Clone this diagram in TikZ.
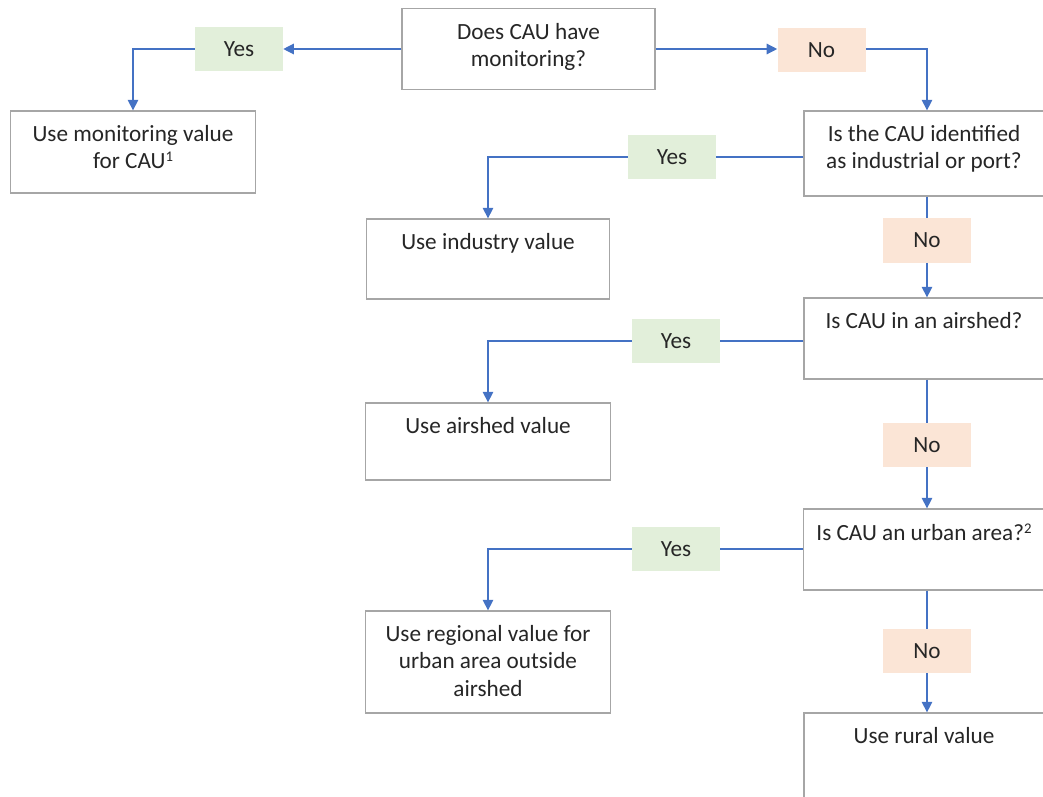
\documentclass[tikz,border=0pt]{standalone}
\usepackage{fontspec}
\setmainfont{Carlito}
\usepackage{tikz}
\usetikzlibrary{arrows.meta}

\definecolor{linkblue}{HTML}{4472C4}
\definecolor{boxgray}{HTML}{A6A6A6}
\definecolor{yesgreen}{HTML}{E2EFDA}
\definecolor{nopeach}{HTML}{FBE5D6}
\definecolor{inkgray}{HTML}{262626}

\newcommand{\notemark}[1]{\raisebox{0.33em}{\fontsize{10.5}{10.5}\selectfont #1}}

\begin{document}
\begin{tikzpicture}[x=0.025cm, y=-0.025cm, font=\fontsize{16.5}{19.5}\selectfont, text=inkgray]
    % Styles
    \tikzstyle{frame} = [rectangle, draw=boxgray, line width=0.9pt, fill=white, inner sep=0pt]
    \tikzstyle{boxtext} = [anchor=north, align=center, inner sep=0pt, yshift=-0.37cm]
    \tikzstyle{yes} = [rectangle, fill=yesgreen, minimum width=2.2cm, minimum height=1.1cm, inner sep=0pt]
    \tikzstyle{no} = [rectangle, fill=nopeach, minimum width=2.2cm, minimum height=1.1cm, inner sep=0pt]
    \tikzstyle{arrow} = [->, >={Triangle[width=7.5pt, length=7.5pt]}, draw=linkblue, line width=0.9pt]
    \tikzstyle{link} = [draw=linkblue, line width=0.9pt]

    \clip (0,0) rectangle (1043,796);

    % Boxes
    \node[frame, minimum width=6.325cm, minimum height=2.025cm] (q1) at (528.5,49) {};
    \node[frame, minimum width=6.125cm, minimum height=2.05cm] (a1) at (133,152) {};
    \node[frame, minimum width=6cm, minimum height=2.125cm] (q2) at (924,153.5) {};
    \node[frame, minimum width=6.075cm, minimum height=2cm] (a2) at (488,259) {};
    \node[frame, minimum width=6cm, minimum height=2.025cm] (q3) at (924,338.5) {};
    \node[frame, minimum width=6.125cm, minimum height=1.925cm] (a3) at (488,441.5) {};
    \node[frame, minimum width=6.025cm, minimum height=2.025cm] (q4) at (924,549.5) {};
    \node[frame, minimum width=6.125cm, minimum height=2.55cm] (a4) at (488,662) {};
    \node[frame, minimum width=6cm, minimum height=2.25cm] (a5) at (924,758) {};

    % Box texts
    \node[boxtext] (q1t) at (q1.north) {Does CAU have\\monitoring?};
    \node[boxtext] (a1t) at (a1.north) {Use monitoring value\\for CAU\notemark{1}};
    \node[boxtext] (q2t) at (q2.north) {Is the CAU identified\\as industrial or port?};
    \node[boxtext] (a2t) at (a2.north) {Use industry value};
    \node[boxtext] (q3t) at (q3.north) {Is CAU in an airshed?};
    \node[boxtext] (a3t) at (a3.north) {Use airshed value};
    \node[boxtext] (q4t) at (q4.north) {Is CAU an urban area?\notemark{2}};
    \node[boxtext] (a4t) at (a4.north) {Use regional value for\\urban area outside\\airshed};
    \node[boxtext] (a5t) at (a5.north) {Use rural value};

    % Yes / No tags
    \node[yes] (yes1) at (239,49) {Yes};
    \node[no] (no1) at (821.5,50) {No};
    \node[yes] (yes2) at (672,157) {Yes};
    \node[no] (no2) at (927,240.5) {No};
    \node[yes] (yes3) at (676,341) {Yes};
    \node[no] (no3) at (927,445) {No};
    \node[yes] (yes4) at (676,549) {Yes};
    \node[no] (no4) at (927,651) {No};

    % Connectors
    \draw[arrow] (q1.west) -- (yes1.east);
    \draw[arrow] (yes1.west) -| (a1.north);
    \draw[arrow] (q1.east) -- (no1.west |- q1.east);
    \draw[arrow] (no1.east |- q1.east) -| (q2.north -| no2);

    \draw[link] (q2.west |- yes2) -- (yes2.east);
    \draw[arrow] (yes2.west) -| (a2.north);
    \draw[link] (q2.south -| no2) -- (no2.north);
    \draw[arrow] (no2.south) -- (q3.north -| no2);

    \draw[link] (q3.west |- yes3) -- (yes3.east);
    \draw[arrow] (yes3.west) -| (a3.north);
    \draw[link] (q3.south -| no3) -- (no3.north);
    \draw[arrow] (no3.south) -- (q4.north -| no3);

    \draw[link] (q4.west |- yes4) -- (yes4.east);
    \draw[arrow] (yes4.west) -| (a4.north);
    \draw[link] (q4.south -| no4) -- (no4.north);
    \draw[arrow] (no4.south) -- (a5.north -| no4);
\end{tikzpicture}
\end{document}
